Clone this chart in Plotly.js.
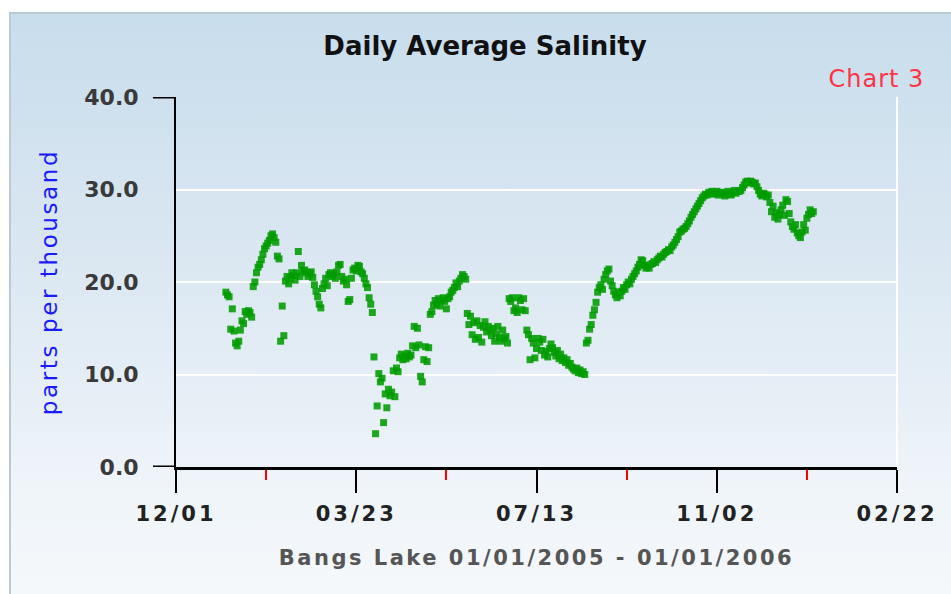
<!DOCTYPE html>
<html>
<head>
<meta charset="utf-8">
<script src="https://cdn.plot.ly/plotly-3.0.1.min.js"></script>
<style>
  html, body { margin: 0; padding: 0; background: #ffffff; }
  #panel {
    position: absolute; left: 9px; top: 12px; width: 942px; height: 582px;
    border-top: 2px solid #b9cad5; border-left: 2px solid #b9cad5;
    background: linear-gradient(to bottom, #c8ddec 0%, #dce8f2 45%, #eef4f9 80%, #f5f8fb 100%);
  }
  #chart { position: absolute; left: 0; top: 0; width: 951px; height: 594px; }
  #chart .xtick text { letter-spacing: 3px; }
  #chart .xtitle { letter-spacing: 2.5px; }
  #chart .ytitle { letter-spacing: 2.6px; }
  #chart .annotation-text { letter-spacing: 1px; }
</style>
</head>
<body>
<div id="panel"></div>
<div id="chart"></div>
<script>
// ---- data ----
const startDate = '2005-01-01';
const salinity = [
  18.9, 18.6, 18.4, 14.9, 17.1, 14.7, 13.4, 13.1, 13.6, 14.8,
  15.8, 15.5, 16.8, 16.5, 16.9, 16.7, 16.2, 19.5, 20.0, 21.0,
  21.6, 21.9, 22.4, 23.0, 23.6, 23.9, 24.2, 24.5, 25.0, 25.2,
  24.8, 24.3, 22.8, 22.5, 13.6, 17.4, 14.2, 20.1, 20.6, 19.8,
  20.4, 21.0, 20.7, 20.2, 21.0, 23.3, 20.6, 21.8, 21.2, 21.3,
  21.0, 20.6, 20.9, 21.1, 20.5, 19.7, 19.0, 18.4, 17.6, 17.2,
  19.3, 19.8, 20.4, 19.6, 20.8, 21.0, 20.6, 20.9, 20.4, 21.1,
  21.8, 21.9, 20.6, 20.1, 20.3, 19.7, 17.9, 18.1, 20.4, 21.3,
  21.5, 21.2, 21.8, 21.7, 21.1, 20.9, 20.4, 19.8, 19.4, 18.3,
  17.6, 16.7, 11.9, 3.6, 6.6, 10.1, 9.2, 9.6, 4.8, 7.9,
  6.4, 8.4, 7.7, 8.1, 10.4, 7.6, 10.7, 10.3, 11.8, 12.2,
  11.6, 12.0, 11.7, 12.3, 11.9, 12.1, 13.1, 15.2, 12.9, 15.0,
  13.2, 9.8, 9.2, 11.6, 13.0, 11.4, 12.9, 16.5, 16.8, 17.5,
  18.0, 17.6, 18.2, 17.4, 18.0, 18.3, 17.9, 17.1, 18.2, 18.4,
  18.9, 19.1, 19.4, 19.9, 19.5, 20.1, 20.4, 20.8, 20.6, 20.3,
  16.6, 15.4, 16.3, 14.3, 15.6, 13.8, 15.8, 14.0, 15.3, 13.5,
  15.1, 15.7, 14.6, 15.2, 14.8, 14.2, 15.0, 13.6, 14.4, 15.2,
  14.0, 13.6, 14.8, 13.9, 14.1, 13.4, 18.2, 17.9, 18.3, 16.9,
  17.2, 16.7, 18.3, 18.0, 17.0, 18.2, 16.9, 14.8, 14.3, 11.6,
  13.9, 13.4, 11.8, 12.8, 13.9, 13.5, 12.6, 13.8, 12.1, 12.5,
  11.9, 12.8, 13.3, 12.9, 12.4, 12.0, 12.6, 11.7, 12.2, 11.5,
  11.8, 11.3, 11.6, 11.0, 11.2, 10.8, 10.6, 10.4, 10.7, 10.2,
  10.5, 10.1, 10.3, 10.0, 13.4, 13.7, 14.9, 15.4, 16.4, 17.0,
  17.8, 18.9, 19.4, 19.7, 19.2, 20.3, 20.8, 21.2, 21.4, 20.1,
  19.6, 19.0, 18.6, 18.3, 18.9, 18.5, 19.0, 19.4, 19.2, 19.7,
  20.0, 19.8, 20.3, 20.6, 20.9, 21.2, 21.6, 21.9, 22.4, 22.3,
  21.8, 21.5, 21.7, 21.5, 21.9, 22.0, 22.2, 22.1, 22.4, 22.6,
  22.8, 22.7, 23.0, 23.2, 23.3, 23.5, 23.4, 23.8, 24.0, 24.3,
  24.6, 24.9, 25.4, 25.5, 25.7, 25.8, 26.0, 26.3, 26.6, 27.0,
  27.3, 27.6, 27.9, 28.2, 28.5, 28.8, 29.1, 29.3, 29.5, 29.4,
  29.7, 29.6, 29.8, 29.5, 29.6, 29.8, 29.4, 29.6, 29.7, 29.5,
  29.3, 29.6, 29.8, 29.5, 29.4, 29.7, 29.9, 29.6, 29.8, 29.8,
  29.9, 30.2, 30.5, 30.8, 30.9, 30.7, 30.9, 30.8, 30.6, 30.7,
  30.3, 29.9, 29.5, 29.3, 29.6, 29.5, 29.2, 29.4, 28.6, 27.6,
  28.2, 27.0, 27.5, 26.8, 27.3, 27.8, 28.3, 27.2, 28.9, 28.7,
  27.4, 26.5, 26.0, 25.7, 26.2, 25.3, 25.0, 24.8, 25.4, 26.2,
  25.6, 26.9, 27.3, 27.8, 27.4, 27.6
];
const xTickDates = ['2004-12-01', '2005-03-23', '2005-07-13', '2005-11-02', '2006-02-22'];
const xTickLabels = ['12/01', '03/23', '07/13', '11/02', '02/22'];
const xMinorDates = ['2005-01-26', '2005-05-18', '2005-09-07', '2005-12-28'];
const yTickVals = [0, 10, 20, 30, 40];
const yTickLabels = ['0.0', '10.0', '20.0', '30.0', '40.0'];
const titleText = 'Daily Average Salinity';
const xTitleText = 'Bangs Lake 01/01/2005 - 01/01/2006';
const yTitleText = 'parts per thousand';
const chartTag = 'Chart 3';

// dates for each daily value
const d0 = new Date(startDate + 'T00:00:00Z');
const dates = salinity.map((v, i) => {
  const d = new Date(d0.getTime() + i * 86400000);
  return d.toISOString().slice(0, 10);
});

const trace = {
  type: 'scatter', mode: 'markers',
  x: dates, y: salinity,
  marker: { symbol: 'square', size: 7, color: 'rgb(0,156,0)', opacity: 0.88, line: { width: 0 } },
  hoverinfo: 'x+y'
};

const FF = 'DejaVu Sans, Verdana, sans-serif';

const layout = {
  width: 951, height: 594,
  margin: { l: 176, r: 54, t: 97, b: 127 },
  paper_bgcolor: 'rgba(0,0,0,0)',
  plot_bgcolor: 'rgba(0,0,0,0)',
  showlegend: false,
  title: {
    text: '<b>' + titleText + '</b>',
    font: { family: FF, size: 26, color: '#111111' },
    x: 0.51, xanchor: 'center', y: 0.922, yanchor: 'middle'
  },
  xaxis: {
    type: 'date',
    range: ['2004-12-01', '2006-02-22'],
    tickmode: 'array', tickvals: xTickDates, ticktext: xTickLabels,
    ticks: 'outside', ticklen: 23, tickwidth: 2, tickcolor: '#000000',
    tickfont: { family: FF, size: 21, color: '#222222', weight: 'bold' },
    ticklabelstandoff: 3,
    showgrid: false, zeroline: false,
    showline: true, linecolor: '#000000', linewidth: 3,
    minor: { tickmode: 'array', tickvals: xMinorDates, ticks: 'outside', ticklen: 10, tickwidth: 2, tickcolor: '#ff0000', showgrid: false },
    title: { text: xTitleText, font: { family: FF, size: 21, color: '#555555', weight: 'bold' }, standoff: 26 },
    fixedrange: true
  },
  yaxis: {
    range: [0, 40],
    tickmode: 'array', tickvals: yTickVals, ticktext: yTickLabels,
    ticks: '', tickfont: { family: FF, size: 22, color: '#3a3a3a', weight: 'bold' },
    ticklabelstandoff: 31,
    showgrid: true, gridcolor: '#ffffff', gridwidth: 2,
    zeroline: false,
    showline: true, linecolor: '#000000', linewidth: 2,
    title: { text: yTitleText, font: { family: FF, size: 23, color: '#1a1aff' }, standoff: 20 },
    fixedrange: true
  },
  shapes: [
    { type: 'line', xref: 'paper', yref: 'y', x0: -0.032, x1: 0, y0: 0, y1: 0, line: { color: '#000000', width: 3 } },
    { type: 'line', xref: 'paper', yref: 'y', x0: -0.032, x1: 0, y0: 40, y1: 40, line: { color: '#000000', width: 3 } },
    { type: 'line', xref: 'paper', yref: 'paper', x0: 1, x1: 1, y0: 0, y1: 1, line: { color: '#ffffff', width: 2 }, layer: 'below' }
  ],
  annotations: [
    { text: chartTag, xref: 'paper', yref: 'paper', x: 1.036, y: 1.005, xanchor: 'right', yanchor: 'bottom',
      showarrow: false, font: { family: FF, size: 24, color: '#ff3344' } }
  ]
};

Plotly.newPlot('chart', [trace], layout, { displayModeBar: false, staticPlot: true });
</script>
</body>
</html>
